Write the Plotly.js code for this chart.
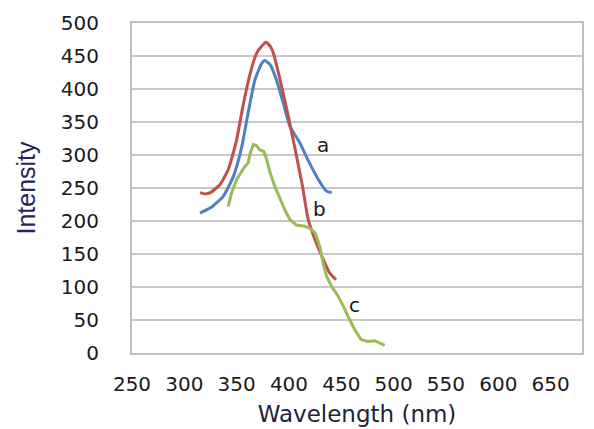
<!DOCTYPE html>
<html>
<head>
<meta charset="utf-8">
<script src="https://cdn.plot.ly/plotly-3.0.1.min.js"></script>
<style>html,body{margin:0;padding:0;background:#fff;}#chart{width:594px;height:429px;}</style>
</head>
<body>
<div id="chart"></div>
<script>
var aX = [315, 325, 337, 347, 355, 361, 367.5, 374, 377, 382, 388, 394.5, 401, 410.5, 418, 428, 436, 441];
var aY = [212, 220, 237, 268, 313, 364, 414, 439, 443, 437, 414, 379, 343, 318, 293, 263, 245, 243];

var bX = [315, 320, 325, 334, 342, 350, 356, 363, 369, 374, 378, 382, 385, 393, 400, 406.6, 413, 418.4, 426, 433, 439, 445];
var bY = [243, 241, 243, 255, 278, 323, 374, 424, 454, 465, 471, 465, 455, 404, 354, 303, 252, 202, 167, 141, 121, 111];

var cX = [342, 345, 350, 355, 358, 361, 363, 366, 369, 372, 376, 378.7, 382, 386.6, 391, 396, 401, 407, 415, 420, 425, 429.5, 432.6, 436, 440.7, 447, 452, 456.5, 463, 469, 475.5, 482, 487, 491.5];
var cY = [222, 242, 263, 275, 283, 288, 303, 316, 314, 308, 305, 293, 273, 252, 235, 217, 202, 194, 192, 189, 182, 161, 136, 116, 101, 86, 71, 55, 35, 20, 17.6, 18.6, 15, 11.5];

var seriesLabels = ['a', 'b', 'c'];
var labelX = [432.7, 428.8, 462.9];
var labelY = [315.6, 218.6, 73.2];

var xTicks = [250, 300, 350, 400, 450, 500, 550, 600, 650];
var yTicks = [0, 50, 100, 150, 200, 250, 300, 350, 400, 450, 500];

var colors = ['#4F81BD', '#C0504D', '#9BBB59'];

var traces = [
  {x: aX, y: aY, name: 'a', mode: 'lines', line: {color: colors[0], width: 3, shape: 'spline', smoothing: 0.5}},
  {x: bX, y: bY, name: 'b', mode: 'lines', line: {color: colors[1], width: 3, shape: 'spline', smoothing: 0.5}},
  {x: cX, y: cY, name: 'c', mode: 'lines', line: {color: colors[2], width: 3}}
];

var annotations = seriesLabels.map(function (t, i) {
  return {x: labelX[i], y: labelY[i], xref: 'x', yref: 'y', text: t, showarrow: false,
          font: {family: 'DejaVu Sans, Arial, sans-serif', size: 20, color: '#1a1a1a'}};
});

var layout = {
  width: 594, height: 429,
  margin: {l: 132, r: 12, t: 23, b: 76, pad: 0},
  paper_bgcolor: '#fff', plot_bgcolor: '#fff',
  showlegend: false,
  font: {family: 'DejaVu Sans, Arial, sans-serif', color: '#1a1a1a'},
  xaxis: {
    range: [250, 680], tickvals: xTicks, ticktext: xTicks.map(String),
    showgrid: false, zeroline: false,
    showline: true, linecolor: '#bfbfbf', linewidth: 2, mirror: true,
    ticks: 'outside', ticklen: 12, tickcolor: 'rgba(0,0,0,0)',
    tickfont: {family: 'DejaVu Sans, Arial, sans-serif', size: 20, color: '#1a1a1a'},
    title: {text: 'Wavelength (nm)', standoff: 11, font: {family: 'DejaVu Sans, Arial, sans-serif', size: 23, color: '#22223a'}}
  },
  yaxis: {
    range: [0, 500], tickvals: yTicks, ticktext: yTicks.map(String),
    showgrid: true, gridcolor: '#c8c8c8', gridwidth: 2,
    zeroline: false,
    showline: true, linecolor: '#bfbfbf', linewidth: 2, mirror: true,
    ticks: 'outside', ticklen: 27, tickcolor: 'rgba(0,0,0,0)',
    tickfont: {family: 'DejaVu Sans, Arial, sans-serif', size: 20, color: '#1a1a1a'},
    title: {text: 'Intensity', standoff: 18, font: {family: 'Liberation Sans, Arial, sans-serif', size: 25, color: '#24245a'}}
  },
  annotations: annotations
};

Plotly.newPlot('chart', traces, layout, {displayModeBar: false, staticPlot: true});
</script>
</body>
</html>
